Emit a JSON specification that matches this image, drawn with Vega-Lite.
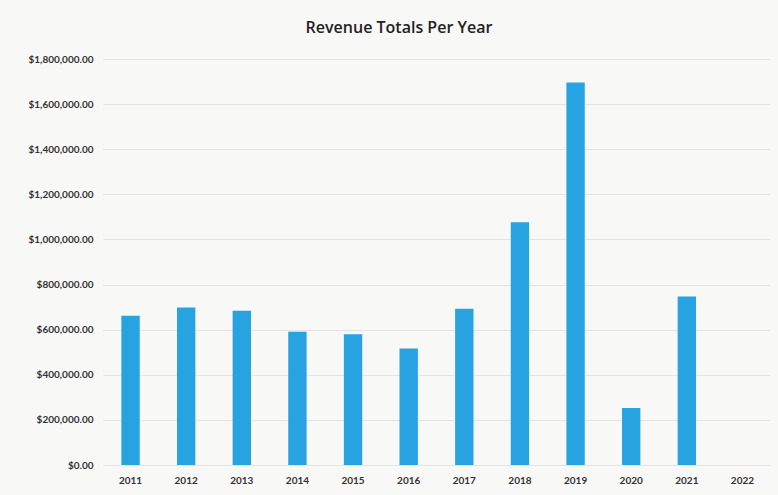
{
  "$schema": "https://vega.github.io/schema/vega-lite/v6.json",
  "autosize": "none",
  "width": 667,
  "height": 406,
  "padding": {"left": 103, "top": 59, "right": 8, "bottom": 30},
  "background": "#f8f8f6",
  "title": {
    "text": "Revenue Totals Per Year",
    "anchor": "middle",
    "frame": "bounds",
    "font": "Open Sans",
    "fontSize": 16,
    "fontWeight": 600,
    "color": "#222222",
    "offset": 18
  },
  "data": {
    "values": [
      {"year": "2011", "revenue": 662000},
      {"year": "2012", "revenue": 698000},
      {"year": "2013", "revenue": 684000},
      {"year": "2014", "revenue": 591000},
      {"year": "2015", "revenue": 580000},
      {"year": "2016", "revenue": 516000},
      {"year": "2017", "revenue": 693000},
      {"year": "2018", "revenue": 1076000},
      {"year": "2019", "revenue": 1696000},
      {"year": "2020", "revenue": 253000},
      {"year": "2021", "revenue": 747000},
      {"year": "2022", "revenue": 0}
    ]
  },
  "mark": {"type": "bar", "color": "#26a3e0"},
  "encoding": {
    "x": {
      "field": "year",
      "type": "ordinal",
      "title": null,
      "scale": {
        "domain": ["2011", "2012", "2013", "2014", "2015", "2016", "2017", "2018", "2019", "2020", "2021", "2022"],
        "paddingInner": 0.67,
        "paddingOuter": 0.33
      },
      "axis": {
        "labelAngle": 0,
        "domain": false,
        "ticks": false,
        "labelPadding": 10,
        "labelFont": "Lato",
        "labelFontSize": 10,
        "labelFontWeight": "bold",
        "labelColor": "#333333"
      }
    },
    "y": {
      "field": "revenue",
      "type": "quantitative",
      "title": null,
      "scale": {"domain": [0, 1800000], "nice": false},
      "axis": {
        "values": [0, 200000, 400000, 600000, 800000, 1000000, 1200000, 1400000, 1600000, 1800000],
        "format": "$,.2f",
        "domain": false,
        "ticks": false,
        "labelPadding": 10,
        "labelFont": "Lato",
        "labelFontSize": 10,
        "labelFontWeight": "bold",
        "labelColor": "#333333",
        "gridColor": "#e4e4e4",
        "gridWidth": 1
      }
    }
  },
  "config": {"view": {"stroke": null}}
}
